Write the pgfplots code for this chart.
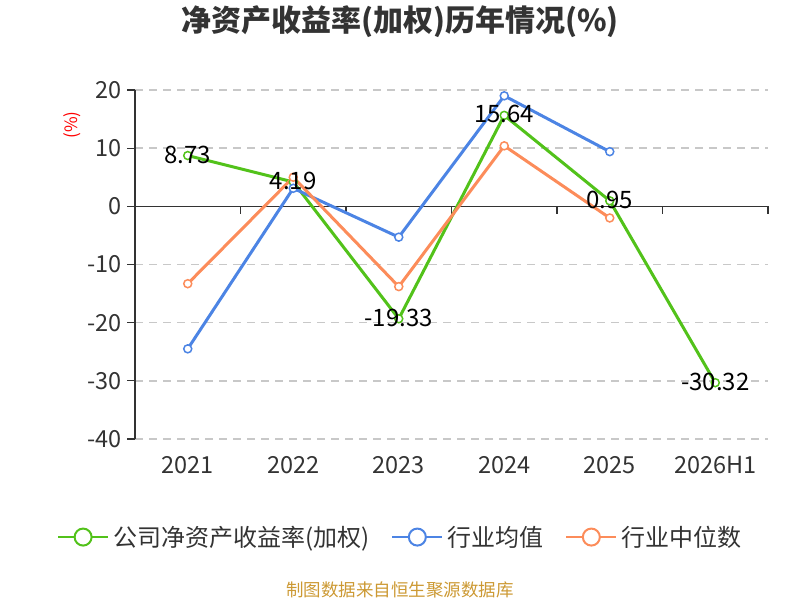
\documentclass[border=0pt]{standalone}
\usepackage{fontspec}
\setmainfont{Noto Sans CJK SC}
\usepackage{pgfplots}
\pgfplotsset{compat=1.18}
\definecolor{cgreen}{RGB}{82,194,26}
\definecolor{cblue}{RGB}{76,132,228}
\definecolor{corange}{RGB}{252,140,90}
\definecolor{txt}{RGB}{51,51,51}
\definecolor{src}{RGB}{204,153,51}
\definecolor{gridc}{RGB}{200,200,200}
\pgfplotstableread{
x y l
0 8.73 8.73
1 4.19 4.19
2 -19.33 -19.33
3 15.64 15.64
4 0.95 0.95
5 -30.32 -30.32
}\company
\pgfplotstableread{
x y
0 -24.5
1 3.1
2 -5.3
3 19.0
4 9.4
}\mean
\pgfplotstableread{
x y
0 -13.3
1 5.0
2 -13.8
3 10.4
4 -2.0
}\median
\begin{document}
\begin{tikzpicture}[x=1pt,y=1pt]
\path (0,0) rectangle (800,600);
\node[font=\bfseries\fontsize{30}{30}\selectfont, text=txt] at (400,578) {净资产收益率(加权)历年情况(\%)};
\node[rotate=90, text=red, font=\fontsize{17}{17}\selectfont] at (72,475) {(\%)};
\node[text=src, font=\fontsize{17.5}{17.5}\selectfont] at (400,10) {制图数据来自恒生聚源数据库};
\begin{axis}[
  at={(135pt,161pt)}, anchor=south west,
  scale only axis, width=633pt, height=349pt,
  xmin=-0.5, xmax=5.5, ymin=-40, ymax=20,
  xtick={0,1,2,3,4,5},
  xticklabels={2021,2022,2023,2024,2025,2026H1},
  ytick={-40,-30,-20,-10,0,10,20},
  axis x line*=bottom, axis y line*=left,
  x axis line style={draw=none},
  y axis line style={draw=txt, line width=1.2pt, -},
  tick align=outside, major tick length=8pt,
  xtick style={draw=none},
  ytick style={draw=txt, line width=1.2pt},
  ymajorgrids,
  grid style={gridc, line width=1.5pt, dash pattern=on 8pt off 6pt},
  /pgf/number format/assume math mode=true,
  ticklabel style={font=\fontsize{23.5}{23.5}\selectfont, text=txt},
  xticklabel style={yshift=-6pt},
  yticklabel style={xshift=-2pt},
  clip=false,
  legend columns=3,
  legend style={at={(0.419,-0.281)}, anchor=center, draw=none, fill=none,
    font=\fontsize{24}{24}\selectfont, text=txt,
    /tikz/every even column/.append style={column sep=20pt},
    /tikz/every odd column/.append style={column sep=2pt}},
  legend image code/.code={
    \draw[#1, line width=2pt] (0pt,0pt) -- (50pt,0pt);
    \draw[#1, line width=2pt, fill=white] (25pt,0pt) circle (8.5pt);
  },
]
\draw[txt, line width=1.2pt] (axis cs:-0.5,0) -- (axis cs:5.5,0);
\draw[txt, line width=1.2pt] (axis cs:0.5,0) -- ++(0pt,-8pt);
\draw[txt, line width=1.2pt] (axis cs:1.5,0) -- ++(0pt,-8pt);
\draw[txt, line width=1.2pt] (axis cs:2.5,0) -- ++(0pt,-8pt);
\draw[txt, line width=1.2pt] (axis cs:3.5,0) -- ++(0pt,-8pt);
\draw[txt, line width=1.2pt] (axis cs:4.5,0) -- ++(0pt,-8pt);
\draw[txt, line width=1.2pt] (axis cs:5.5,0) -- ++(0pt,-8pt);
\addplot[cgreen, line width=3pt, mark=*, mark size=4pt,
  mark options={fill=white, draw=cgreen, line width=1.5pt}] table[x=x,y=y] {\company};
\addlegendentry{公司净资产收益率(加权)}
\addplot[cblue, line width=3pt, mark=*, mark size=4pt,
  mark options={fill=white, draw=cblue, line width=1.5pt}] table[x=x,y=y] {\mean};
\addlegendentry{行业均值}
\addplot[corange, line width=3pt, mark=*, mark size=4pt,
  mark options={fill=white, draw=corange, line width=1.5pt}] table[x=x,y=y] {\median};
\addlegendentry{行业中位数}
\addplot[draw=none, mark=none, forget plot,
  nodes near coords, point meta=explicit symbolic,
  nodes near coords style={anchor=center, text=black, yshift=1pt,
    font=\fontsize{24}{24}\selectfont}] table[x=x,y=y,meta=l] {\company};
\end{axis}
\end{tikzpicture}
\end{document}
